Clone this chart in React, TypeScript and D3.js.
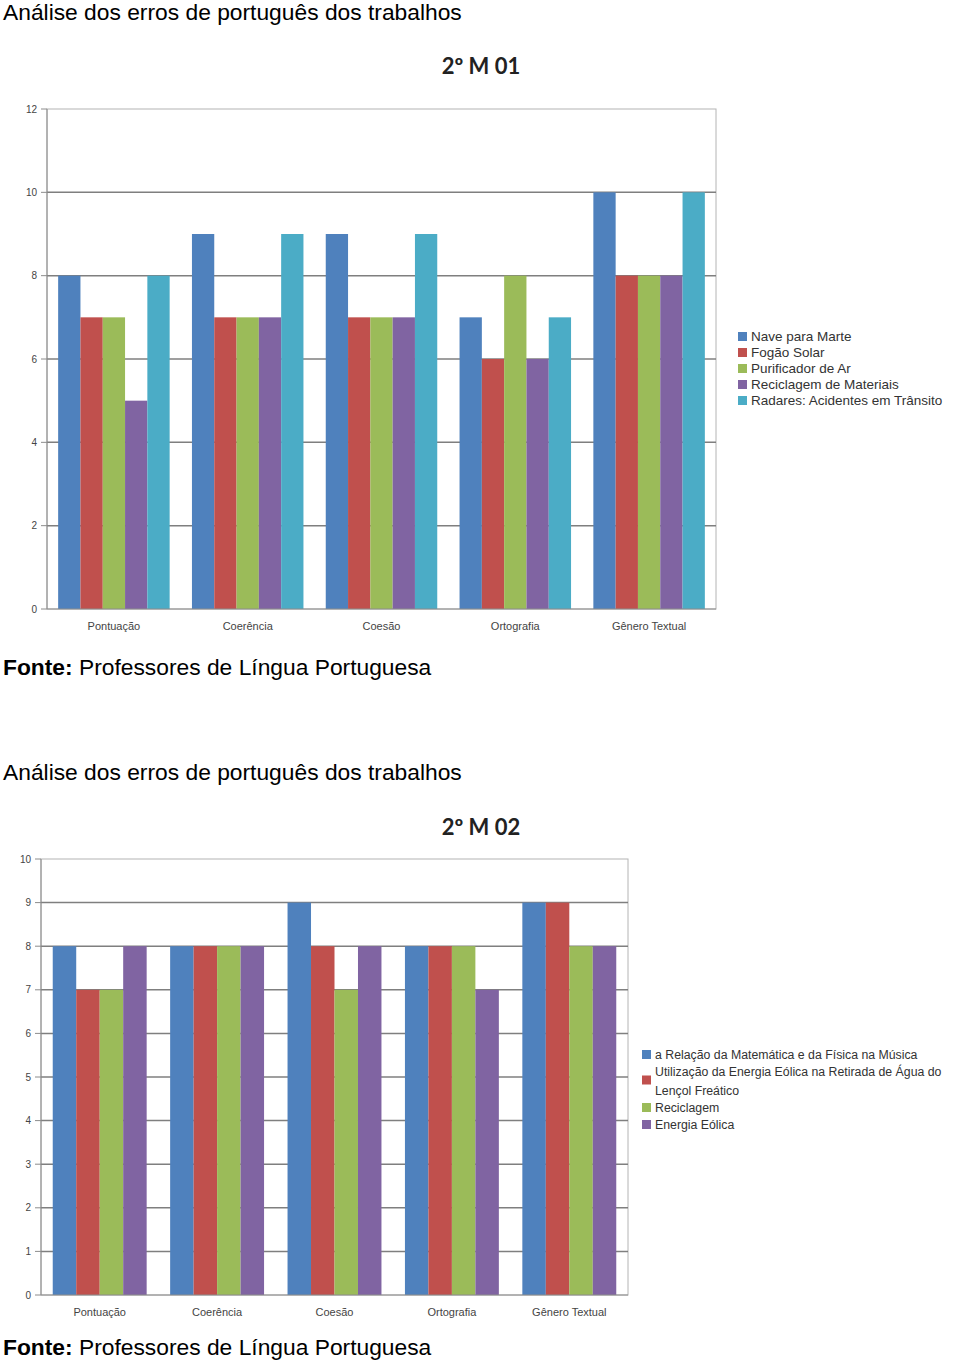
import * as d3 from 'd3';

const categories = ['Pontuação', 'Coerência', 'Coesão', 'Ortografia', 'Gênero Textual'];

const series1 = ['Nave para Marte', 'Fogão Solar', 'Purificador de Ar', 'Reciclagem de Materiais', 'Radares: Acidentes em Trânsito'];
const values1 = [
  [8, 7, 7, 5, 8],
  [9, 7, 7, 7, 9],
  [9, 7, 7, 7, 9],
  [7, 6, 8, 6, 7],
  [10, 8, 8, 8, 10]
];
const ticks1 = [0, 2, 4, 6, 8, 10, 12];

const series2 = [
  'a Relação da Matemática e da Física na Música',
  'Utilização da Energia Eólica na Retirada de Água do|Lençol Freático',
  'Reciclagem',
  'Energia Eólica'
];
const values2 = [
  [8, 7, 7, 8],
  [8, 8, 8, 8],
  [9, 8, 7, 8],
  [8, 8, 8, 7],
  [9, 9, 8, 8]
];
const ticks2 = [0, 1, 2, 3, 4, 5, 6, 7, 8, 9, 10];

const colors = ['#4F81BD', '#C0504D', '#9BBB59', '#8064A2', '#4BACC6'];

const FONT = '"Liberation Sans", Arial, sans-serif';

interface ChartProps {
  title: string;
  titleY: number;
  series: string[];
  values: number[][];
  ticks: number[];
  left: number;
  right: number;
  top: number;
  bottom: number;
  legendX: number;
  legendY: number;
  legendStep: number;
  legendFont: number;
}

function BarChart({ title, titleY, series, values, ticks, left, right, top, bottom, legendX, legendY, legendStep, legendFont }: ChartProps) {
  const yMax = ticks[ticks.length - 1];
  const y = d3.scaleLinear().domain([0, yMax]).range([bottom, top]);
  const x0 = d3.scaleBand<string>().domain(categories).range([left, right]);
  const x1 = d3.scaleBand<string>().domain(series).range([0, x0.bandwidth()]).paddingOuter(0.5).paddingInner(0);

  // legend rows, a label may wrap on '|'
  let ly = legendY;
  const legendRows = series.map((s, i) => {
    const lines = s.split('|');
    const rowY = ly;
    ly += legendStep * lines.length + (lines.length > 1 ? 2 : 0);
    return { lines, rowY, i };
  });

  return (
    <g>
      <text x={481} y={titleY} textAnchor="middle" fontFamily="Lato, 'Open Sans', sans-serif" fontWeight="bold" fontSize={22} fill="#222">{title}</text>
      <rect x={left} y={top} width={right - left} height={bottom - top} fill="#fff" stroke="#b4b4b4" strokeWidth={1} />
      {ticks.slice(1, -1).map(t => (
        <line key={'g' + t} x1={left} x2={right} y1={y(t)} y2={y(t)} stroke="#7f7f7f" strokeWidth={1.5} />
      ))}
      {categories.map((c, ci) => (
        <g key={c} transform={`translate(${x0(c)},0)`}>
          {series.map((s, si) => (
            <rect key={s} x={x1(s)} y={y(values[ci][si])} width={x1.bandwidth()} height={bottom - y(values[ci][si])} fill={colors[si]} />
          ))}
        </g>
      ))}
      <line x1={left} x2={left} y1={top} y2={bottom} stroke="#8c8c8c" strokeWidth={1} />
      <line x1={left} x2={right} y1={bottom} y2={bottom} stroke="#8c8c8c" strokeWidth={1} />
      {ticks.map(t => (
        <g key={'t' + t}>
          <line x1={left - 6} x2={left} y1={y(t)} y2={y(t)} stroke="#8c8c8c" />
          <text x={left - 10} y={y(t) + 3.5} textAnchor="end" fontFamily={FONT} fontSize={10} fill="#444">{t}</text>
        </g>
      ))}
      {categories.map(c => (
        <text key={'c' + c} x={(x0(c) as number) + x0.bandwidth() / 2} y={bottom + 21} textAnchor="middle" fontFamily={FONT} fontSize={11} fill="#444">{c}</text>
      ))}
      {legendRows.map(({ lines, rowY, i }) => (
        <g key={'l' + i}>
          <rect x={legendX} y={rowY + (lines.length > 1 ? legendStep / 2 : 0) - 4} width={9} height={9} fill={colors[i]} />
          {lines.map((ln, k) => (
            <text key={k} x={legendX + 13} y={rowY + k * (legendStep + 2) + 4.5} fontFamily={FONT} fontSize={legendFont} fill="#333">{ln}</text>
          ))}
        </g>
      ))}
    </g>
  );
}

export default function App() {
  return (
    <svg width={960} height={1362} style={{ position: 'absolute', left: 0, top: 0, background: '#fff' }}>
      <rect width={960} height={1362} fill="#fff" />
      <text x={3} y={20} fontFamily={FONT} fontSize={22.8} fill="#000">Análise dos erros de português dos trabalhos</text>
      <BarChart title="2º M 01" titleY={74} series={series1} values={values1} ticks={ticks1}
        left={47} right={716} top={109} bottom={609}
        legendX={738} legendY={336} legendStep={16} legendFont={13.5} />
      <text x={3} y={675} fontFamily={FONT} fontSize={22.8} fill="#000"><tspan fontWeight="bold">Fonte:</tspan> Professores de Língua Portuguesa</text>

      <text x={3} y={780} fontFamily={FONT} fontSize={22.8} fill="#000">Análise dos erros de português dos trabalhos</text>
      <BarChart title="2º M 02" titleY={835} series={series2} values={values2} ticks={ticks2}
        left={41} right={628} top={859} bottom={1295}
        legendX={642} legendY={1054} legendStep={17} legendFont={12.3} />
      <text x={3} y={1355} fontFamily={FONT} fontSize={22.8} fill="#000"><tspan fontWeight="bold">Fonte:</tspan> Professores de Língua Portuguesa</text>
    </svg>
  );
}
